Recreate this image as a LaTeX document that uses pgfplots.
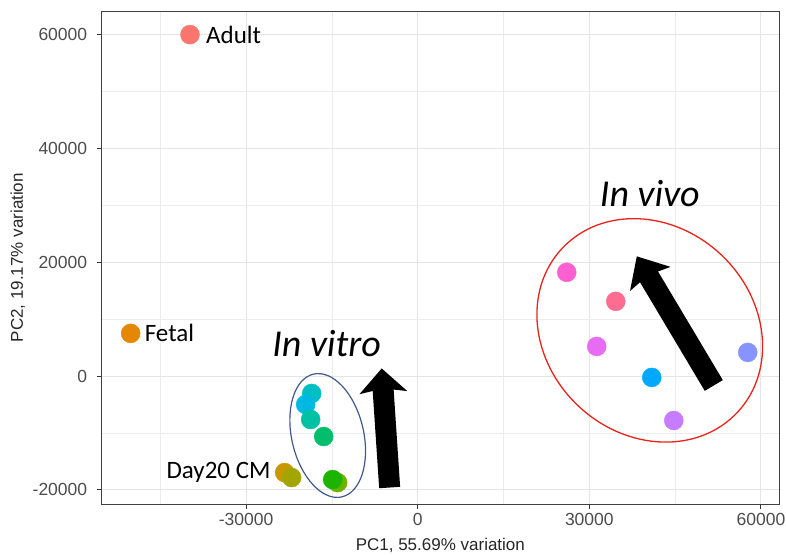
\documentclass[border=0pt]{standalone}
\usepackage{pgfplots}
\pgfplotsset{compat=1.18}
\usepackage{pgfplotstable}
\usepackage{fontspec}
\setmainfont{Liberation Sans}
\newfontfamily\annfont{Carlito}
\usetikzlibrary{arrows.meta}

\definecolor{cA}{HTML}{F8766D}
\definecolor{cB}{HTML}{E58700}
\definecolor{cC}{HTML}{C99800}
\definecolor{cD}{HTML}{A3A500}
\definecolor{cE}{HTML}{00BFC4}
\definecolor{cF}{HTML}{00B9E3}
\definecolor{cG}{HTML}{00C1A3}
\definecolor{cH}{HTML}{00BE6C}
\definecolor{cI}{HTML}{6BB100}
\definecolor{cJ}{HTML}{1DB400}
\definecolor{cK}{HTML}{FD61D1}
\definecolor{cL}{HTML}{FF6C91}
\definecolor{cM}{HTML}{E76BF3}
\definecolor{cN}{HTML}{00A9FF}
\definecolor{cO}{HTML}{C77CFF}
\definecolor{cP}{HTML}{8794FF}
\definecolor{vitroring}{HTML}{41598A}
\definecolor{vivoring}{HTML}{E8231C}

% PC1, PC2, sample group
\pgfplotstableread{
x      y      c
-39800 60000  a
-50170 7510   b
-23250 -16940 c
-22030 -17820 d
-18530 -3040  e
-19580 -4980  f
-18710 -7620  g
-16430 -10610 h
-13990 -18700 i
-14860 -18170 j
26050  18240  k
34620  13140  l
31290  5220   m
40910  -230   n
44760  -7790  o
57690  4170   p
}\pcadata

\begin{document}
\begin{tikzpicture}
\begin{axis}[
    scale only axis,
    width=677.3pt, height=493.3pt,
    xmin=-55230, xmax=63150,
    ymin=-22515, ymax=64150,
    xtick={-30000,0,30000,60000},
    ytick={-20000,0,20000,40000,60000},
    minor xtick={-45000,-15000,15000,45000},
    minor ytick={-10000,10000,30000,50000},
    grid=both,
    major grid style={color=black!10, line width=1pt},
    minor grid style={color=black!7, line width=0.6pt},
    axis line style={color=black!75, line width=0.9pt},
    tick pos=left,
    tick align=outside,
    major tick length=5pt,
    minor tick length=0pt,
    tick style={color=black!80, line width=1pt},
    scaled ticks=false,
    /pgf/number format/fixed,
    /pgf/number format/1000 sep={},
    /pgf/number format/assume math mode=true,
    tick label style={font=\fontsize{17.5}{17.5}\selectfont, color=black!70},
    yticklabel style={xshift=-6pt},
    xlabel={PC1, 55.69\% variation},
    ylabel={PC2, 19.17\% variation},
    label style={font=\fontsize{17}{17}\selectfont, color=black!85},
    xlabel style={at={(axis description cs:0.5,0)}, anchor=center, yshift=-41pt},
    ylabel style={at={(axis description cs:-0.124,0.5)}, anchor=center},
]
\addplot[scatter, only marks, mark=*, mark size=9.5pt,
    scatter src=explicit symbolic,
    scatter/classes={
        a={fill=cA,draw=cA}, b={fill=cB,draw=cB}, c={fill=cC,draw=cC},
        d={fill=cD,draw=cD}, e={fill=cE,draw=cE}, f={fill=cF,draw=cF},
        g={fill=cG,draw=cG}, h={fill=cH,draw=cH}, i={fill=cI,draw=cI},
        j={fill=cJ,draw=cJ}, k={fill=cK,draw=cK}, l={fill=cL,draw=cL},
        m={fill=cM,draw=cM}, n={fill=cN,draw=cN}, o={fill=cO,draw=cO},
        p={fill=cP,draw=cP}}]
    table[x=x, y=y, meta=c] {\pcadata};

% group rings
\draw[color=vitroring, line width=1.2pt] (axis cs:-15730,-10430)
    circle [x radius=36pt, y radius=63pt, rotate=13];
\draw[color=vivoring, line width=1.3pt] (axis cs:40560,8040)
    circle [x radius=120pt, y radius=104pt, rotate=-43];

% block arrows
\draw[line width=21pt, -{Stealth[width=47pt, length=24pt, inset=4pt]}]
    (axis cs:-4900,-19570) -- (axis cs:-6290,1350);
\draw[line width=21pt, -{Stealth[width=46pt, length=26pt, inset=4pt]}]
    (axis cs:51750,-1640) -- (axis cs:38290,21050);

% annotations
\node[font=\annfont\itshape\fontsize{38}{38}\selectfont] at (axis cs:-15910,5750) {In vitro};
\node[font=\annfont\itshape\fontsize{38}{38}\selectfont] at (axis cs:40560,32130) {In vivo};
\node[anchor=west, inner sep=0pt, xshift=16pt, font=\annfont\fontsize{25}{25}\selectfont]
    at (axis cs:-39800,60000) {Adult};
\node[anchor=west, inner sep=0pt, xshift=14pt, font=\annfont\fontsize{25}{25}\selectfont]
    at (axis cs:-50170,7510) {Fetal};
\node[anchor=east, inner sep=0pt, xshift=-14pt, font=\annfont\fontsize{25}{25}\selectfont]
    at (axis cs:-23250,-16940) {Day20 CM};
\end{axis}
\pgfresetboundingbox
\path[use as bounding box] ([shift={(-101.7pt,-50.7pt)}]current axis.south west)
    rectangle ([shift={(7pt,11pt)}]current axis.north east);
\end{tikzpicture}
\end{document}
